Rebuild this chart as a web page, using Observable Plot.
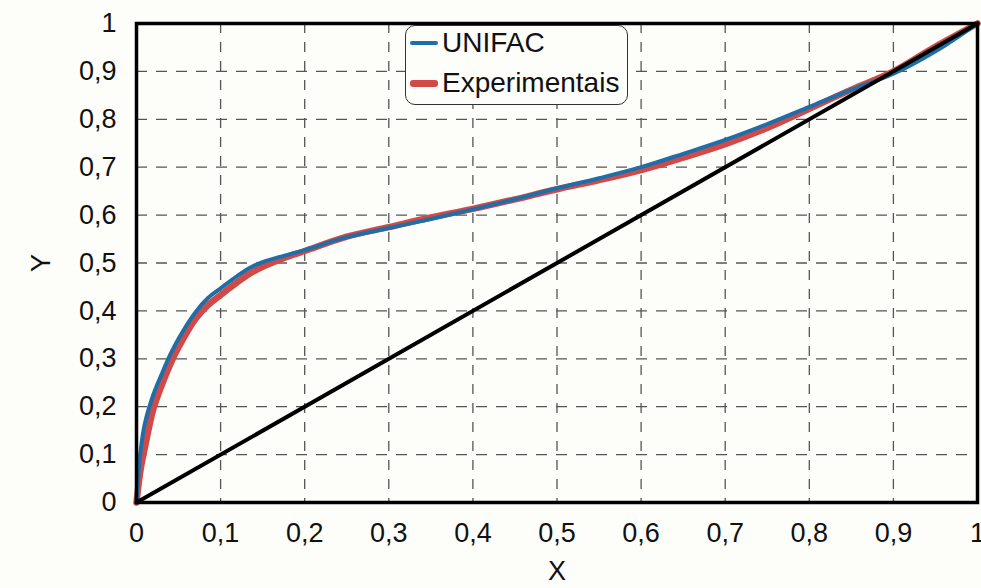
<!DOCTYPE html>
<html>
<head>
<meta charset="utf-8">
<script src="https://cdn.jsdelivr.net/npm/d3@7"></script>
<script src="https://cdn.jsdelivr.net/npm/@observablehq/plot@0.6"></script>
<style>
  html, body { margin: 0; padding: 0; background: #fdfdfa; }
  #wrap { position: relative; width: 981px; height: 588px; overflow: hidden; font-family: "Liberation Sans", Arial, sans-serif; }
  #wrap svg g[aria-label$="tick label"] { font-size: 27px !important; }
  #wrap svg g[aria-label$="label"] text { font-size: 27px !important; }
  #legend { position: absolute; left: 405px; top: 25px; width: 223px; height: 80px; border: 1.5px solid #333; border-radius: 10px; background: #fdfdfa; box-sizing: border-box; }
  .row { position: absolute; left: 4px; display: flex; align-items: center; font-size: 28px; color: #111; white-space: nowrap; }
  .sw { width: 28px; border-radius: 3px; margin-right: 4px; }
</style>
</head>
<body>
<div id="wrap"></div>
<script>
const xs = [0, 0.005, 0.01, 0.02, 0.03, 0.04, 0.05, 0.07, 0.085, 0.1, 0.12, 0.135, 0.15, 0.175, 0.2, 0.25, 0.3, 0.35, 0.4, 0.45, 0.5, 0.55, 0.6, 0.65, 0.7, 0.75, 0.8, 0.85, 0.9, 0.95, 1];
const unifac = [0, 0.11, 0.165, 0.225, 0.268, 0.308, 0.342, 0.397, 0.427, 0.447, 0.473, 0.49, 0.502, 0.515, 0.527, 0.554, 0.573, 0.592, 0.612, 0.633, 0.656, 0.677, 0.7, 0.728, 0.757, 0.79, 0.826, 0.862, 0.895, 0.942, 1];
const experimentais = [0, 0.07, 0.115, 0.195, 0.245, 0.288, 0.324, 0.383, 0.412, 0.433, 0.46, 0.478, 0.492, 0.51, 0.525, 0.555, 0.575, 0.595, 0.613, 0.633, 0.654, 0.673, 0.694, 0.72, 0.748, 0.782, 0.822, 0.862, 0.9, 0.952, 1];
const diagonal = [0, 1];
const ticks = [0, 0.1, 0.2, 0.3, 0.4, 0.5, 0.6, 0.7, 0.8, 0.9, 1];
const seriesNames = ["UNIFAC", "Experimentais"];
const seriesColors = ["#1f6ea8", "#d24a48"];

const fmt = d => (d === 0 || d === 1) ? String(d) : d.toFixed(1).replace(".", ",");
const uni = xs.map((x, i) => ({x, y: unifac[i]}));
const exp = xs.map((x, i) => ({x, y: experimentais[i]}));
const diag = diagonal.map(v => ({x: v, y: v}));

const chart = Plot.plot({
  width: 981,
  height: 588,
  marginLeft: 136,
  marginRight: 4,
  marginTop: 23,
  marginBottom: 86,
  style: {fontFamily: "'Liberation Sans', Arial, sans-serif", fontSize: "27px", background: "#fdfdfa", color: "#111"},
  x: {domain: [0, 1]},
  y: {domain: [0, 1]},
  marks: [
    Plot.gridX(ticks.slice(1, -1), {stroke: "#555", strokeOpacity: 1, strokeWidth: 1.3, strokeDasharray: "10,9"}),
    Plot.gridY(ticks.slice(1, -1), {stroke: "#555", strokeOpacity: 1, strokeWidth: 1.3, strokeDasharray: "11,9"}),
    Plot.axisX({ticks, tickFormat: fmt, tickSize: 0, tickPadding: 20, label: "X", labelAnchor: "center", labelArrow: "none", labelOffset: 77, fontSize: 27}),
    Plot.axisY({ticks, tickFormat: fmt, tickSize: 0, tickPadding: 20, label: "Y", labelAnchor: "center", labelArrow: "none", labelOffset: 106, fontSize: 27}),
    Plot.line(exp, {x: "x", y: "y", stroke: seriesColors[1], strokeWidth: 6.5, curve: "catmull-rom"}),
    Plot.line(uni, {x: "x", y: "y", stroke: seriesColors[0], strokeWidth: 4, curve: "catmull-rom"}),
    Plot.line(diag, {x: "x", y: "y", stroke: "#000", strokeWidth: 4}),
    Plot.frame({stroke: "#000", strokeWidth: 3.5})
  ]
});

const wrap = document.getElementById("wrap");
wrap.appendChild(chart);

const legend = document.createElement("div");
legend.id = "legend";
const rowTops = [1, 41];
const swH = [4, 7];
seriesNames.forEach((name, i) => {
  const row = document.createElement("div");
  row.className = "row";
  row.style.top = rowTops[i] + "px";
  const sw = document.createElement("span");
  sw.className = "sw";
  sw.style.height = swH[i] + "px";
  sw.style.background = seriesColors[i];
  const t = document.createElement("span");
  t.textContent = name;
  row.appendChild(sw);
  row.appendChild(t);
  legend.appendChild(row);
});
wrap.appendChild(legend);
</script>
</body>
</html>
